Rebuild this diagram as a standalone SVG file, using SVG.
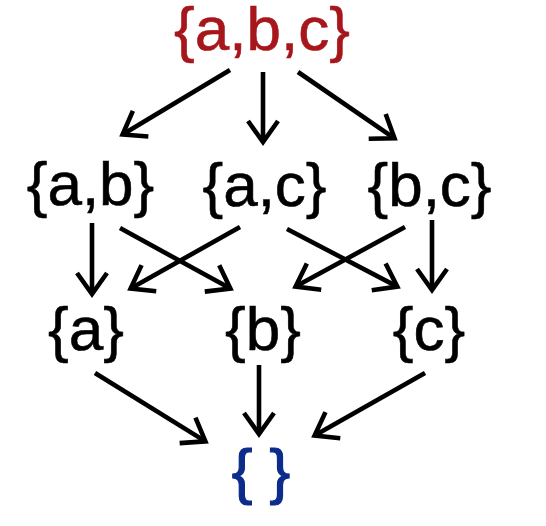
<svg xmlns="http://www.w3.org/2000/svg" width="546" height="526" viewBox="0 0 546 526">
  <style>
    .lbl { font-family: "Liberation Sans", Arial, sans-serif; font-size: 62px; text-anchor: middle; fill: #000; stroke: #000; stroke-width: 0.6; }
    .top { fill: #A6161B; stroke: #A6161B; }
    .bot { fill: #0C2C8C; stroke: #0C2C8C; stroke-width: 1.2; }
    .edge { stroke: #000; stroke-width: 4.6; fill: none; marker-end: url(#arrow); }
  </style>
  <defs>
    <marker id="arrow" markerUnits="userSpaceOnUse" viewBox="-28 -22 34 44" markerWidth="34" markerHeight="44" refX="0" refY="0" orient="auto" overflow="visible">
      <path d="M-21,-15 L0,0 L-21,15" fill="none" stroke="#000" stroke-width="4.6" stroke-linejoin="miter" stroke-miterlimit="10"/>
    </marker>
  </defs>
  <rect width="546" height="526" fill="#fff"/>
  <g id="connectors">
    <line class="edge" x1="230" y1="70" x2="122.6" y2="134.5"/>
    <line class="edge" x1="263" y1="72" x2="263" y2="142"/>
    <line class="edge" x1="298" y1="72" x2="394.5" y2="138.3"/>
    <line class="edge" x1="92" y1="223" x2="92" y2="294"/>
    <line class="edge" x1="120" y1="228" x2="230.4" y2="288.6"/>
    <line class="edge" x1="240" y1="227" x2="130.6" y2="288.5"/>
    <line class="edge" x1="287" y1="229" x2="397.3" y2="286.6"/>
    <line class="edge" x1="405" y1="227" x2="295.6" y2="286.6"/>
    <line class="edge" x1="432" y1="220" x2="432" y2="290"/>
    <line class="edge" x1="95" y1="373" x2="205.4" y2="441.4"/>
    <line class="edge" x1="259" y1="365" x2="259" y2="434"/>
    <line class="edge" x1="425" y1="373" x2="314.6" y2="435.5"/>
  </g>
  <g id="n-abc"><text class="lbl top" x="262" y="50">{a,b,c}</text></g>
  <g id="n-ab"><text class="lbl" x="90.5" y="205">{a,b}</text></g>
  <g id="n-ac"><text class="lbl" x="264.5" y="206">{a,c}</text></g>
  <g id="n-bc"><text class="lbl" x="429.5" y="206">{b,c}</text></g>
  <g id="n-a"><text class="lbl" x="86" y="350">{a}</text></g>
  <g id="n-b"><text class="lbl" x="263" y="350">{b}</text></g>
  <g id="n-c"><text class="lbl" x="429" y="350">{c}</text></g>
  <g id="n-empty"><text class="lbl bot" x="261" y="492">{ }</text></g>
</svg>
